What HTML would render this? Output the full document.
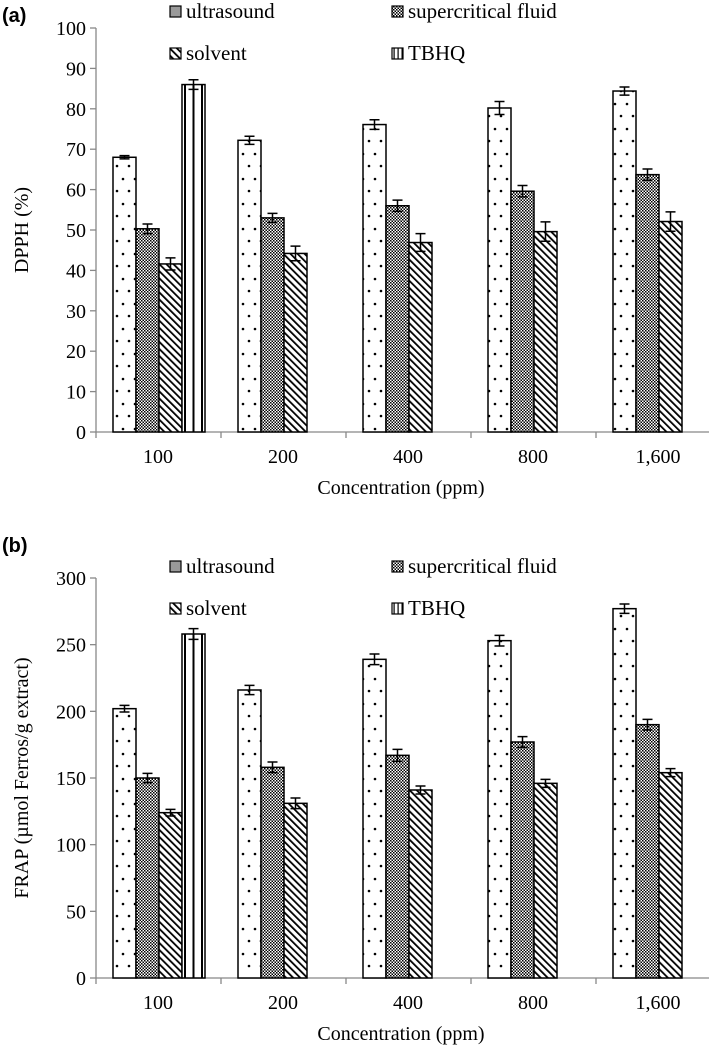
<!DOCTYPE html>
<html><head><meta charset="utf-8"><style>
body{margin:0;background:#fff}
svg{display:block;font-family:"Liberation Serif",serif}
.pl{font-family:"Liberation Sans",sans-serif;font-weight:bold;font-size:20px}
</style></head><body>
<svg id="c" width="709" height="1049" viewBox="0 0 709 1049">
<defs>
<pattern id="pDot" width="12" height="25" patternUnits="userSpaceOnUse"><rect width="12" height="25" fill="#fff"/><circle cx="3" cy="4" r="1.3" fill="#000"/><circle cx="9" cy="16" r="1.3" fill="#000"/></pattern>
<pattern id="pChk" width="3" height="3" patternUnits="userSpaceOnUse"><rect width="3" height="3" fill="#fff"/><rect width="1.5" height="1.5" fill="#000"/><rect x="1.5" y="1.5" width="1.5" height="1.5" fill="#000"/></pattern>
<pattern id="pDiag" width="5" height="5" patternUnits="userSpaceOnUse" patternTransform="rotate(-45)"><rect width="5" height="5" fill="#fff"/><rect width="1.8" height="5" fill="#000"/></pattern>
<pattern id="pVert" width="4" height="4" patternUnits="userSpaceOnUse"><rect width="4" height="4" fill="#fff"/><rect x="1.5" width="1.2" height="4" fill="#000"/></pattern>
</defs>
</svg>
<script>
const categories=["100","200","400","800","1,600"];
const seriesNames=["ultrasound","supercritical fluid","solvent","TBHQ"];
const dpphUltra=[68,72.2,76.1,80.2,84.4];
const dpphSuper=[50.3,53,56,59.6,63.7];
const dpphSolv=[41.6,44.2,46.9,49.6,52.1];
const dpphTbhq=[86,0,0,0,0];
const dpphErrUltra=[0.4,1,1.2,1.6,1];
const dpphErrSuper=[1.2,1.1,1.4,1.4,1.4];
const dpphErrSolv=[1.5,1.8,2.2,2.4,2.4];
const dpphErrTbhq=[1.2,0,0,0,0];
const dpphTicks=[0,10,20,30,40,50,60,70,80,90,100];
const frapUltra=[202,216,239,253,277];
const frapSuper=[150,158,167,177,190];
const frapSolv=[124,131,141,146,154];
const frapTbhq=[258,0,0,0,0];
const frapErrUltra=[2.5,3.5,4,4,3.5];
const frapErrSuper=[3.5,4,4.5,4,4];
const frapErrSolv=[2.5,4,3,3,3];
const frapErrTbhq=[4,0,0,0,0];
const frapTicks=[0,50,100,150,200,250,300];

const NS="http://www.w3.org/2000/svg";
const svg=document.getElementById('c');
function mk(t,a,p){const e=document.createElementNS(NS,t);for(const k in a)e.setAttribute(k,a[k]);(p||svg).appendChild(e);return e;}
const fills=["url(#pDot)","url(#pChk)","url(#pDiag)","#fff"];
const legFills=["#9a9a9a","url(#pChk)","url(#pDiag)","url(#pVert)"];

function chart(o){
  const g=mk('g',{});
  
  
  const x0=96, step=125, bw=23;
  const y=v=>o.y0-(v-o.min)/(o.max-o.min)*(o.y0-o.yTop);
  const pl=mk('text',{x:2,y:o.labelY,class:'pl'},g);pl.textContent=o.panel;
  
  const ya=mk('line',{x1:x0,y1:y(o.max),x2:x0,y2:o.y0,stroke:'#888','stroke-width':1.3},g);
  
  o.ticks.forEach(t=>{
    mk('line',{x1:x0-6,y1:y(t),x2:x0,y2:y(t),stroke:'#888','stroke-width':1.3},g);
    const tx=mk('text',{x:x0-10,y:y(t)+7,'text-anchor':'end','font-size':20},g);tx.textContent=t;
    
  });
  const xa=mk('line',{x1:x0,y1:o.y0,x2:709,y2:o.y0,stroke:'#888','stroke-width':1.3},g);
  
  for(let i=0;i<=5;i++)mk('line',{x1:x0+step*i,y1:o.y0,x2:x0+step*i,y2:o.y0+6,stroke:'#888','stroke-width':1.3},g);
  categories.forEach((c,i)=>{
    const tx=mk('text',{x:x0+step*i+62,y:o.y0+31,'text-anchor':'middle','font-size':20},g);tx.textContent=c;
    
    o.series.forEach((s,j)=>{
      const v=s[i];if(!v)return;
      const bx=x0+step*i+17+bw*j, by=y(v);
      const r=mk('rect',{x:bx,y:by,width:bw,height:o.y0-by,fill:fills[j],stroke:'#000','stroke-width':1.5},g);
      
      
      if(j===3){
        [bx+3,bx+bw/2,bx+bw-3].forEach(lx=>mk('line',{x1:lx,y1:by,x2:lx,y2:o.y0,stroke:'#000','stroke-width':2},g));
      }
      const e=o.errs[j][i],cx=bx+bw/2;
      const eb=mk('path',{d:`M${cx},${y(v+e)}V${y(v-e)}M${cx-5},${y(v+e)}H${cx+5}M${cx-5},${y(v-e)}H${cx+5}`,stroke:'#000','stroke-width':1.5,fill:'none'},g);
      
    });
  });
  const yt=mk('text',{transform:`translate(28,${o.titleY}) rotate(-90)`,'text-anchor':'middle','font-size':20},g);yt.textContent=o.ytitle;
  
  const xt=mk('text',{x:401,y:o.y0+62,'text-anchor':'middle','font-size':20},g);xt.textContent="Concentration (ppm)";
  
  const lx=[170,392],ly=[o.legY,o.legY+42];
  seriesNames.forEach((n,j)=>{
    const lg=mk('g',{},g);
    
    const X=lx[j%2],Y=ly[Math.floor(j/2)];
    mk('rect',{x:X,y:Y-12,width:11,height:11,fill:legFills[j],stroke:'#000','stroke-width':1.2},lg);
    const t=mk('text',{x:X+16,y:Y,'font-size':21},lg);t.textContent=n;
  });
}
chart({name:'dpph-chart',panel:'(a)',labelY:22,y0:432,yTop:28,min:0,max:100,ticks:dpphTicks,
  series:[dpphUltra,dpphSuper,dpphSolv,dpphTbhq],errs:[dpphErrUltra,dpphErrSuper,dpphErrSolv,dpphErrTbhq],
  ytitle:"DPPH (%)",titleY:230,legY:18});
chart({name:'frap-chart',panel:'(b)',labelY:552,y0:978,yTop:578,min:0,max:300,ticks:frapTicks,
  series:[frapUltra,frapSuper,frapSolv,frapTbhq],errs:[frapErrUltra,frapErrSuper,frapErrSolv,frapErrTbhq],
  ytitle:"FRAP (µmol Ferros/g extract)",titleY:778,legY:573});
</script>
</body></html>
